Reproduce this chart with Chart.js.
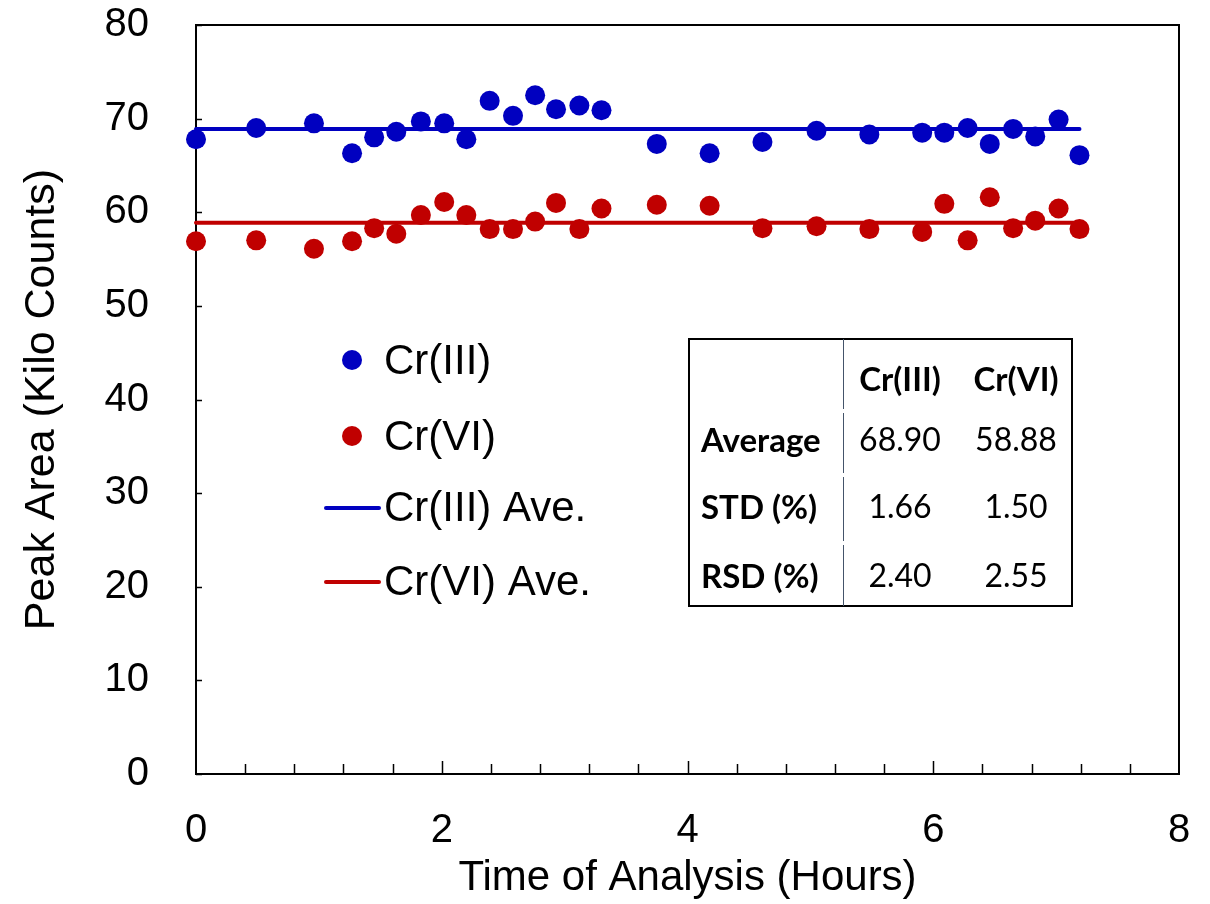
<!DOCTYPE html>
<html lang="en">
  <head>
    <meta charset="UTF-8" />
    <title>Cr(III) / Cr(VI) peak area stability</title>
    <script src="https://cdn.jsdelivr.net/npm/chart.js"></script>
    <style>
      body { margin: 0; background: #fff; }
      .wrap { width: 1210px; height: 904px; position: relative; }
    </style>
  </head>
  <body>
    <div class="wrap">
      <canvas id="stabilityChart"></canvas>
    </div>

    <script>
      // time of analysis (hours) for each injection
      const hours = [
        0, 0.49, 0.96, 1.27, 1.45, 1.63, 1.83, 2.02, 2.2, 2.39, 2.58, 2.76,
        2.93, 3.12, 3.3, 3.75, 4.18, 4.61, 5.05, 5.48, 5.91, 6.09, 6.28, 6.46,
        6.65, 6.83, 7.02, 7.19,
      ];
      // peak areas (kilo counts)
      const cr3Area = [
        67.8, 69.0, 69.5, 66.3, 68.0, 68.6, 69.7, 69.5, 67.8, 71.9, 70.3, 72.5,
        71.0, 71.4, 70.9, 67.3, 66.3, 67.5, 68.7, 68.3, 68.5, 68.5, 69.0, 67.3,
        68.9, 68.1, 69.9, 66.1,
      ];
      const cr6Area = [
        56.9, 57.0, 56.1, 56.9, 58.3, 57.7, 59.7, 61.1, 59.7, 58.2, 58.2, 59.0,
        61.0, 58.2, 60.4, 60.8, 60.7, 58.3, 58.5, 58.2, 57.9, 60.9, 57.0, 61.6,
        58.3, 59.1, 60.4, 58.2,
      ];
      const cr3Ave = 68.9;
      const cr6Ave = 58.88;

      // summary table
      const tableHead = ["Cr(III)", "Cr(VI)"];
      const tableRows = ["Average", "STD (%)", "RSD (%)"];
      const tableCr3 = ["68.90", "1.66", "2.40"];
      const tableCr6 = ["58.88", "1.50", "2.55"];

      const xTicks = [0, 2, 4, 6, 8];
      const yTicks = [0, 10, 20, 30, 40, 50, 60, 70, 80];

      const BLUE = "#0000c0";
      const RED = "#c00000";
      const FONT = "'Liberation Sans', Arial, sans-serif";

      const toPoints = (xs, ys) => xs.map((x, i) => ({ x: x, y: ys[i] }));
      const tEnd = hours[hours.length - 1];

      // frame + inward ticks
      const framePlugin = {
        id: "frame",
        beforeDatasetsDraw(chart) {
          const { ctx, chartArea: a, scales } = chart;
          ctx.save();
          ctx.strokeStyle = "#000";
          ctx.lineWidth = 2;
          ctx.strokeRect(a.left, a.top, a.right - a.left, a.bottom - a.top);
          ctx.lineWidth = 1.5;
          ctx.beginPath();
          yTicks.forEach((v) => {
            const y = Math.round(scales.y.getPixelForValue(v)) + 0.5;
            ctx.moveTo(a.left, y);
            ctx.lineTo(a.left + 6, y);
          });
          for (let i = 1; i < 20; i++) {
            const v = i * 0.4;
            const x = Math.round(scales.x.getPixelForValue(v)) + 0.5;
            const len = i % 5 === 0 ? 13 : 10;
            ctx.moveTo(x, a.bottom);
            ctx.lineTo(x, a.bottom - len);
          }
          ctx.stroke();
          ctx.restore();
        },
      };

      // legend inside plot
      const legendPlugin = {
        id: "insideLegend",
        afterDraw(chart) {
          const { ctx } = chart;
          const ds = chart.data.datasets;
          const rows = [361, 437, 508, 582];
          ctx.save();
          ctx.font = "42px " + FONT;
          ctx.textBaseline = "middle";
          ctx.fillStyle = "#000";
          ds.forEach((d, i) => {
            const y = rows[i];
            if (d.showLine === false) {
              ctx.beginPath();
              ctx.fillStyle = d.backgroundColor;
              ctx.arc(352, y - 1, 10, 0, Math.PI * 2);
              ctx.fill();
            } else {
              ctx.strokeStyle = d.borderColor;
              ctx.lineWidth = 4;
              ctx.lineCap = "round";
              ctx.beginPath();
              ctx.moveTo(326, y);
              ctx.lineTo(379, y);
              ctx.stroke();
            }
            ctx.fillStyle = "#000";
            ctx.fillText(d.label, 384, y + 1);
          });
          ctx.restore();
        },
      };

      // summary table box
      const tablePlugin = {
        id: "summaryTable",
        afterDraw(chart) {
          const { ctx } = chart;
          const box = { l: 689, t: 339, r: 1072, b: 606 };
          const rowY = [380, 441, 508, 577];
          ctx.save();
          ctx.fillStyle = "#fff";
          ctx.fillRect(box.l, box.t, box.r - box.l, box.b - box.t);
          ctx.strokeStyle = "#000";
          ctx.lineWidth = 2;
          ctx.strokeRect(box.l, box.t, box.r - box.l, box.b - box.t);

          ctx.strokeStyle = "#44546a";
          ctx.lineWidth = 1;
          const breaks = [box.t, 411, 475, 543, box.b];
          for (let i = 0; i < breaks.length - 1; i++) {
            ctx.beginPath();
            ctx.moveTo(843.5, breaks[i] + (i ? 2 : 0));
            ctx.lineTo(843.5, breaks[i + 1] - (i < 3 ? 2 : 0));
            ctx.stroke();
          }

          ctx.fillStyle = "#000";
          ctx.textBaseline = "middle";
          ctx.font = "bold 33px Lato, 'Open Sans', sans-serif";
          ctx.textAlign = "center";
          ctx.fillText(tableHead[0], 900, rowY[0]);
          ctx.fillText(tableHead[1], 1016, rowY[0]);
          ctx.textAlign = "left";
          tableRows.forEach((r, i) => ctx.fillText(r, 701, rowY[i + 1]));
          ctx.font = "32px Lato, 'Open Sans', sans-serif";
          ctx.textAlign = "center";
          tableCr3.forEach((v, i) => ctx.fillText(v, 900, rowY[i + 1]));
          tableCr6.forEach((v, i) => ctx.fillText(v, 1016, rowY[i + 1]));
          ctx.restore();
        },
      };

      new Chart(document.getElementById("stabilityChart"), {
        type: "scatter",
        data: {
          datasets: [
            {
              label: "Cr(III)",
              data: toPoints(hours, cr3Area),
              backgroundColor: BLUE,
              borderWidth: 0,
              pointRadius: 10,
              showLine: false,
              clip: false,
              order: 0,
            },
            {
              label: "Cr(VI)",
              data: toPoints(hours, cr6Area),
              backgroundColor: RED,
              borderWidth: 0,
              pointRadius: 10,
              showLine: false,
              clip: false,
              order: 0,
            },
            {
              label: "Cr(III) Ave.",
              type: "line",
              data: [
                { x: 0, y: cr3Ave },
                { x: tEnd, y: cr3Ave },
              ],
              borderColor: BLUE,
              borderWidth: 4,
              borderCapStyle: "round",
              pointRadius: 0,
              clip: false,
              order: 1,
            },
            {
              label: "Cr(VI) Ave.",
              type: "line",
              data: [
                { x: 0, y: cr6Ave },
                { x: tEnd, y: cr6Ave },
              ],
              borderColor: RED,
              borderWidth: 4,
              borderCapStyle: "round",
              pointRadius: 0,
              clip: false,
              order: 1,
            },
          ],
        },
        options: {
          responsive: true,
          maintainAspectRatio: false,
          animation: false,
          layout: { padding: { top: 25, right: 31, left: 0, bottom: 0 } },
          plugins: {
            legend: { display: false },
            tooltip: { enabled: false },
          },
          scales: {
            x: {
              type: "linear",
              min: 0,
              max: 8,
              afterFit: (s) => {
                s.height = 130;
                s.paddingLeft = 0;
                s.paddingRight = 0;
              },
              afterBuildTicks: (s) => { s.ticks = xTicks.map((v) => ({ value: v })); },
              grid: { display: false },
              border: { display: true, color: "#000", width: 2 },
              ticks: {
                color: "#000",
                font: { family: FONT, size: 40 },
                padding: 25,
                maxRotation: 0,
              },
              title: {
                display: true,
                text: "Time of Analysis (Hours)",
                color: "#000",
                font: { family: FONT, size: 42 },
                padding: { top: 0, bottom: 0 },
              },
            },
            y: {
              min: 0,
              max: 80,
              afterFit: (s) => {
                s.width = 196;
                s.paddingTop = 0;
                s.paddingBottom = 0;
              },
              afterBuildTicks: (s) => { s.ticks = yTicks.map((v) => ({ value: v })); },
              grid: { display: false },
              border: { display: true, color: "#000", width: 2 },
              ticks: {
                color: "#000",
                font: { family: FONT, size: 40 },
                padding: 39,
              },
              title: {
                display: true,
                text: "Peak Area (Kilo Counts)",
                color: "#000",
                font: { family: FONT, size: 43 },
                padding: { top: 16, bottom: 0 },
              },
            },
          },
        },
        plugins: [framePlugin, legendPlugin, tablePlugin],
      });
    </script>
  </body>
</html>
